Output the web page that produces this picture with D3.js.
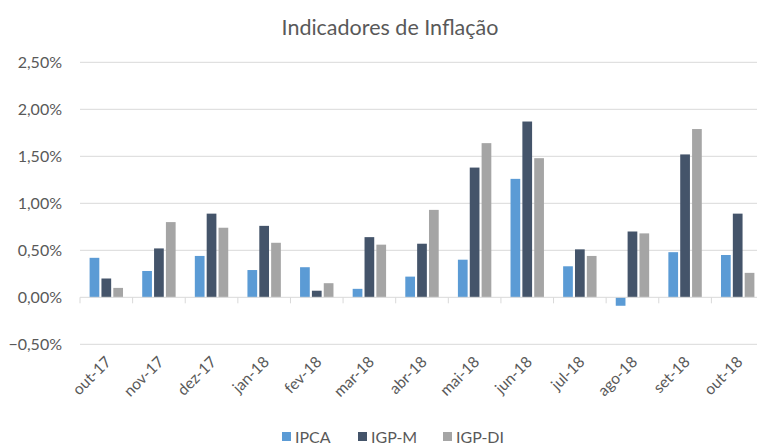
<!DOCTYPE html>
<html>
<head>
<meta charset="utf-8">
<script src="https://cdn.jsdelivr.net/npm/d3@7"></script>
<style>
  html, body { margin: 0; padding: 0; background: #fff; }
  svg { display: block; font-family: Lato, "Open Sans", sans-serif; }
</style>
</head>
<body>
<svg id="chart" width="757" height="446"></svg>
<script>
const categories = ["out-17","nov-17","dez-17","jan-18","fev-18","mar-18","abr-18","mai-18","jun-18","jul-18","ago-18","set-18","out-18"];
const seriesNames = ["IPCA","IGP-M","IGP-DI"];
const ipca  = [0.42, 0.28, 0.44, 0.29, 0.32, 0.09, 0.22, 0.40, 1.26, 0.33, -0.09, 0.48, 0.45];
const igpm  = [0.20, 0.52, 0.89, 0.76, 0.07, 0.64, 0.57, 1.38, 1.87, 0.51, 0.70, 1.52, 0.89];
const igpdi = [0.10, 0.80, 0.74, 0.58, 0.15, 0.56, 0.93, 1.64, 1.48, 0.44, 0.68, 1.79, 0.26];
const yTicks = [-0.5, 0, 0.5, 1.0, 1.5, 2.0, 2.5];
const colors = ["#5B9BD5", "#44546A", "#A5A5A5"];
const title = "Indicadores de Inflação";

const seriesValues = [ipca, igpm, igpdi];
const svg = d3.select("#chart");
const textColor = "#595959";

const x0 = d3.scaleBand().domain(categories).range([80, 764]).paddingInner(0).paddingOuter(0);
const x1 = d3.scaleBand().domain(seriesNames).range([0, x0.bandwidth()]).paddingInner(0.18).paddingOuter(0.81);
const y = d3.scaleLinear().domain([-0.5, 2.5]).range([344.3, 62.3]);

const fmt = v => d3.format(".2f")(v).replace(".", ",") + "%";

// gridlines
svg.append("g").selectAll("line").data(yTicks.filter(t => t !== 0)).join("line")
  .attr("x1", 80).attr("x2", 764)
  .attr("y1", d => y(d)).attr("y2", d => y(d))
  .attr("stroke", "#D9D9D9").attr("stroke-width", 1);

// y axis labels
const yAxis = d3.axisLeft(y).tickValues(yTicks).tickFormat(fmt).tickSize(0).tickPadding(0);
const yg = svg.append("g").attr("transform", "translate(62,0)").call(yAxis);
yg.select(".domain").remove();
yg.selectAll("text").attr("fill", textColor).style("font-size", "16px").style("font-family", "Lato, sans-serif");

// bars
const groups = svg.append("g").selectAll("g").data(categories).join("g")
  .attr("transform", d => `translate(${x0(d)},0)`);
groups.selectAll("rect").data((c, i) => seriesNames.map((s, j) => ({s, v: seriesValues[j][i], j})))
  .join("rect")
  .attr("x", d => x1(d.s))
  .attr("width", x1.bandwidth())
  .attr("y", d => Math.min(y(d.v), y(0)))
  .attr("height", d => Math.abs(y(d.v) - y(0)))
  .attr("fill", d => colors[d.j]);

// x axis (zero line with ticks at boundaries)
const xg = svg.append("g").attr("transform", `translate(0,${y(0)})`);
xg.append("line").attr("x1", 80).attr("x2", 764).attr("y1", 0).attr("y2", 0)
  .attr("stroke", "#D9D9D9").attr("stroke-width", 1);
const boundaries = categories.map(c => x0(c));
xg.selectAll("line.tick").data(boundaries).join("line").attr("class", "tick")
  .attr("x1", d => d).attr("x2", d => d).attr("y1", 0).attr("y2", 6)
  .attr("stroke", "#D9D9D9").attr("stroke-width", 1);

// x labels (rotated) at bottom
svg.append("g").selectAll("text").data(categories).join("text")
  .attr("transform", d => `translate(${x0(d) + x0.bandwidth()/2 + 2},${359}) rotate(-45)`)
  .attr("text-anchor", "end")
  .attr("dy", "0.35em")
  .attr("fill", textColor)
  .style("font-size", "15.5px")
  .text(d => d);

// title
svg.append("text").attr("x", 390).attr("y", 35).attr("text-anchor", "middle")
  .attr("fill", textColor).style("font-size", "21.5px").text(title);

// legend
const legendX = [282, 358, 443];
const lg = svg.append("g").selectAll("g").data(seriesNames).join("g")
  .attr("transform", (d, i) => `translate(${legendX[i]},437)`);
lg.append("rect").attr("x", 0).attr("y", -5).attr("width", 9).attr("height", 9)
  .attr("fill", (d, i) => colors[i]);
lg.append("text").attr("x", 13).attr("y", 0).attr("dy", "0.35em")
  .attr("fill", textColor).style("font-size", "16px").text(d => d);
</script>
</body>
</html>
